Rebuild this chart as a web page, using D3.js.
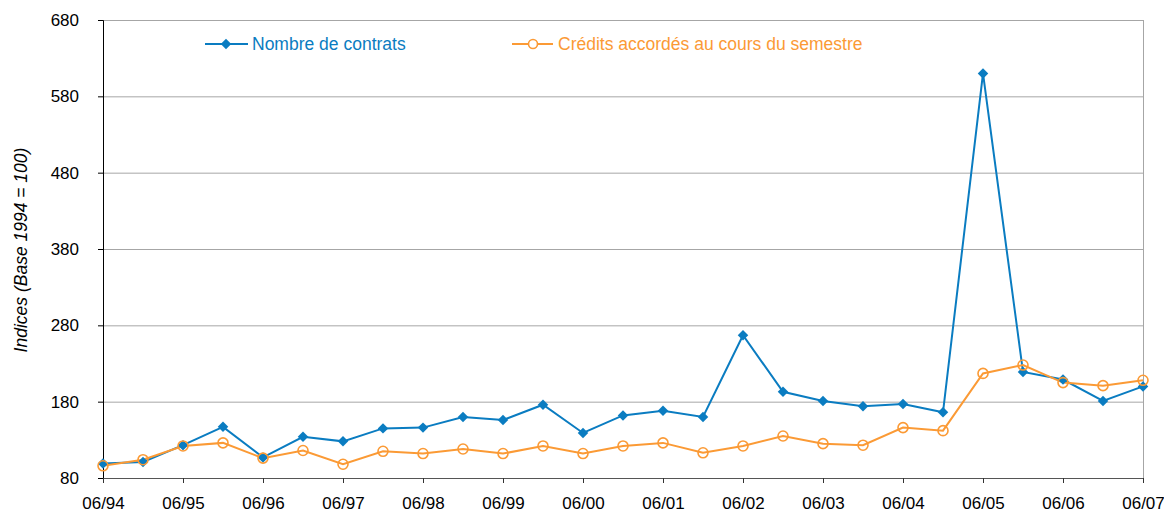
<!DOCTYPE html>
<html><head><meta charset="utf-8">
<script src="https://cdn.jsdelivr.net/npm/d3@7"></script>
<style>body{margin:0;background:#fff}svg{display:block}</style>
</head><body>
<svg id="c" width="1164" height="513"></svg>
<script>
const periods = ["06/94","12/94","06/95","12/95","06/96","12/96","06/97","12/97","06/98","12/98","06/99","12/99","06/00","12/00","06/01","12/01","06/02","12/02","06/03","12/03","06/04","12/04","06/05","12/05","06/06","12/06","06/07"];
const contrats = [99,101,123,147,107,134,128,145,146,160,156,176,139,162,168,160,267,193,181,174,177,166,610,219,209,181,200];
const credits  = [96,104,122,126,106,116,98,115,112,118,112,122,112,122,126,113,122,135,125,123,146,142,217,228,205,201,208];
const yTicks = [80,180,280,380,480,580,680];
const xTickLabels = ["06/94","06/95","06/96","06/97","06/98","06/99","06/00","06/01","06/02","06/03","06/04","06/05","06/06","06/07"];
const seriesNames = ["Nombre de contrats","Crédits accordés au cours du semestre"];
const blue = "#0a7cc1", orange = "#fb9a35";

const svg = d3.select("#c");
const L=103, R=1143, T=20, B=478;
const x = d3.scalePoint().domain(periods).range([L,R]);
const y = d3.scaleLinear().domain([80,680]).range([B,T]);
const font = "'Liberation Sans', Arial, sans-serif";

// gridlines
svg.append("g").selectAll("line").data(yTicks.filter(d=>d>80)).join("line")
  .attr("x1",L).attr("x2",R).attr("y1",d=>y(d)+0.5).attr("y2",d=>y(d)+0.5)
  .attr("stroke","#a6a6a6").attr("stroke-width",1);
// right border
svg.append("line").attr("x1",R+0.5).attr("x2",R+0.5).attr("y1",T).attr("y2",B).attr("stroke","#a6a6a6");

// y axis
const ya = svg.append("g").attr("transform",`translate(${L},0)`)
  .call(d3.axisLeft(y).tickValues(yTicks).tickSize(5).tickPadding(19));
ya.select(".domain").attr("stroke","#000");
ya.selectAll(".tick line").attr("stroke","#000");
ya.selectAll("text").attr("font-family",font).attr("font-size",17).attr("fill","#000");

// x axis
const xa = svg.append("g").attr("transform",`translate(0,${B})`)
  .call(d3.axisBottom(x).tickValues(xTickLabels).tickSize(5).tickPadding(14));
xa.select(".domain").attr("stroke","#555").attr("d",`M${L},0.5H${R}`);
xa.selectAll(".tick line").attr("stroke","#333");
xa.selectAll("text").attr("font-family",font).attr("font-size",17).attr("fill","#000");

// y title
svg.append("text").attr("transform","translate(27,250) rotate(-90)")
  .attr("text-anchor","middle").attr("font-family",font).attr("font-size",17.5)
  .attr("font-style","italic").attr("fill","#000").text("Indices (Base 1994 = 100)");

const line = d3.line().x((d,i)=>x(periods[i])).y(d=>y(d));
svg.append("path").datum(contrats).attr("d",line).attr("fill","none").attr("stroke",blue).attr("stroke-width",2);
svg.append("path").datum(credits).attr("d",line).attr("fill","none").attr("stroke",orange).attr("stroke-width",2);

const diamond = d3.symbol().type(d3.symbolDiamond2).size(70);
svg.append("g").selectAll("path").data(contrats).join("path")
  .attr("d",diamond).attr("transform",(d,i)=>`translate(${x(periods[i])},${y(d)})`).attr("fill",blue);
svg.append("g").selectAll("circle").data(credits).join("circle")
  .attr("cx",(d,i)=>x(periods[i])).attr("cy",d=>y(d)).attr("r",5)
  .attr("fill","none").attr("stroke",orange).attr("stroke-width",1.6);

// legend
const lg = svg.append("g");
lg.append("line").attr("x1",205).attr("x2",248).attr("y1",44).attr("y2",44).attr("stroke",blue).attr("stroke-width",2);
lg.append("path").attr("d",diamond).attr("transform","translate(226,44)").attr("fill",blue);
lg.append("text").attr("x",252).attr("y",50).attr("font-family",font).attr("font-size",17.5).attr("fill",blue).text(seriesNames[0]);
lg.append("line").attr("x1",512).attr("x2",553).attr("y1",44).attr("y2",44).attr("stroke",orange).attr("stroke-width",2);
lg.append("circle").attr("cx",533).attr("cy",44).attr("r",4.5).attr("fill","#fff").attr("stroke",orange).attr("stroke-width",1.6);
lg.append("text").attr("x",558).attr("y",50).attr("font-family",font).attr("font-size",17.5).attr("fill",orange).text(seriesNames[1]);
</script>
</body></html>
